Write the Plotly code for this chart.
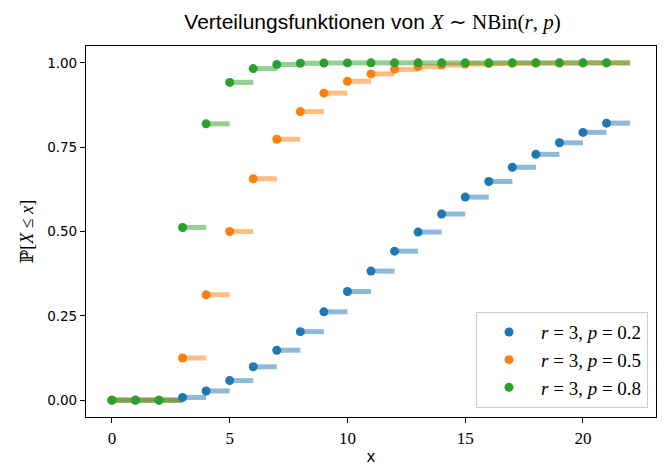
import plotly.graph_objects as go

# x values (number of trials)
x_vals = list(range(22))

# CDF values P[X <= x]
cdf_p02 = [0.0, 0.0, 0.0, 0.008, 0.0272, 0.0579, 0.0989, 0.1480, 0.2031, 0.2618,
           0.3222, 0.3826, 0.4417, 0.4983, 0.5519, 0.6020, 0.6482, 0.6904, 0.7287,
           0.7631, 0.7939, 0.8213]
cdf_p05 = [0.0, 0.0, 0.0, 0.125, 0.3125, 0.5, 0.6563, 0.7734, 0.8555, 0.9102,
           0.9453, 0.9673, 0.9807, 0.9888, 0.9935, 0.9963, 0.9979, 0.9988, 0.9993,
           0.9996, 0.9998, 0.9999]
cdf_p08 = [0.0, 0.0, 0.0, 0.512, 0.8192, 0.9421, 0.9830, 0.9953, 0.9988, 0.9997,
           0.9999, 1.0, 1.0, 1.0, 1.0, 1.0, 1.0, 1.0, 1.0, 1.0, 1.0, 1.0]

series_labels = ["<i>r</i> = 3, <i>p</i> = 0.2",
                 "<i>r</i> = 3, <i>p</i> = 0.5",
                 "<i>r</i> = 3, <i>p</i> = 0.8"]
series_values = [cdf_p02, cdf_p05, cdf_p08]
colors = ["#1f77b4", "#ff7f0e", "#2ca02c"]

x_ticks = [0, 5, 10, 15, 20]
y_ticks = [0.0, 0.25, 0.5, 0.75, 1.0]

fig = go.Figure()

# step segments from x to x+1
for vals, col in zip(series_values, colors):
    sx, sy = [], []
    for xv, yv in zip(x_vals, vals):
        sx += [xv, xv + 1, None]
        sy += [yv, yv, None]
    fig.add_trace(go.Scatter(x=sx, y=sy, mode="lines",
                             line=dict(color=col, width=5),
                             opacity=0.5, showlegend=False, hoverinfo="skip"))

for vals, col, lab in zip(series_values, colors, series_labels):
    fig.add_trace(go.Scatter(x=x_vals, y=vals, mode="markers",
                             marker=dict(color=col, size=9),
                             name=lab))

serif = "Liberation Serif, DejaVu Serif, serif"
sans = "DejaVu Sans, sans-serif"

fig.update_layout(
    width=670, height=466,
    autosize=False,
    margin=dict(l=86, r=14, t=46, b=49, autoexpand=False),
    paper_bgcolor="white", plot_bgcolor="white",
    title=dict(
        text=("<span style=\"font-family:Liberation Sans, Arial, sans-serif\">Verteilungsfunktionen von </span>"
              "<span style=\"font-family:Liberation Serif, serif\"><i>X</i> ∼ NBin(<i>r</i>, <i>p</i>)</span>"),
        x=0.556, xanchor="center", y=0.953, yanchor="middle",
        font=dict(size=21, color="black", family="Liberation Sans, Arial, sans-serif"),
    ),
    xaxis=dict(
        range=[-1.1, 23.1], tickvals=x_ticks, ticktext=[str(t) for t in x_ticks],
        showline=True, linecolor="black", linewidth=1.2, mirror=True,
        ticks="outside", ticklen=5, tickcolor="black", tickwidth=1,
        showgrid=False, zeroline=False, automargin=False,
        tickfont=dict(family=serif, size=17, color="black"),
        title=dict(text="x", font=dict(family=sans, size=15, color="black"), standoff=4),
    ),
    yaxis=dict(
        range=[-0.05, 1.05], tickvals=y_ticks, ticktext=["%.2f" % t for t in y_ticks],
        showline=True, linecolor="black", linewidth=1.2, mirror=True,
        ticks="outside", ticklen=5, tickcolor="black", tickwidth=1,
        showgrid=False, zeroline=False, automargin=False,
        tickfont=dict(family=sans, size=13.5, color="black"),
        title=dict(text="ℙ[<i>X</i> ≤ <i>x</i>]", font=dict(family=serif, size=18, color="black"), standoff=8),
    ),
    legend=dict(
        x=0.986, xanchor="right", y=0.024, yanchor="bottom",
        bgcolor="rgba(255,255,255,0.85)", bordercolor="#cccccc", borderwidth=1,
        font=dict(family=serif, size=19, color="black"),
        itemwidth=54,
    ),
)

fig.write_html("out.html")
